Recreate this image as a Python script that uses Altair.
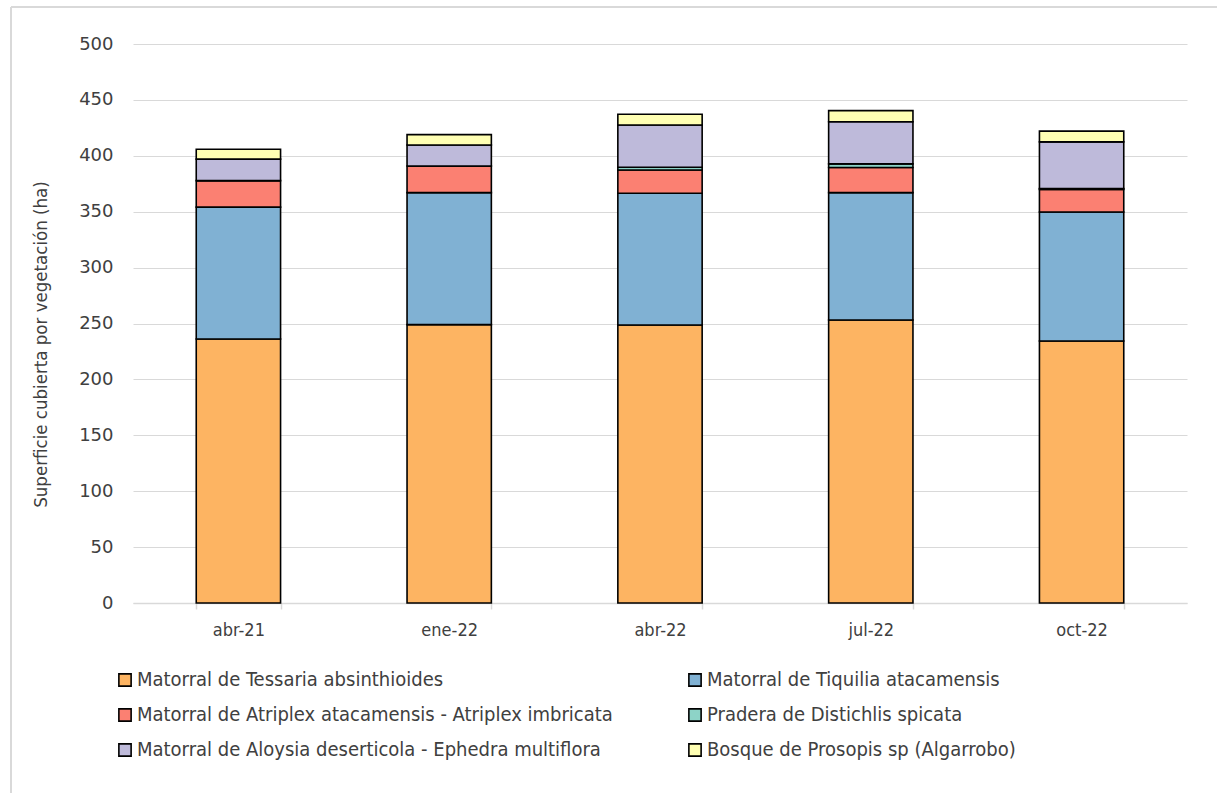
import altair as alt
import pandas as pd

fechas = ["abr-21", "ene-22", "abr-22", "jul-22", "oct-22"]
tipos = [
    "Matorral de Tessaria absinthioides",
    "Matorral de Tiquilia atacamensis",
    "Matorral de Atriplex atacamensis - Atriplex imbricata",
    "Pradera de Distichlis spicata",
    "Matorral de Aloysia deserticola - Ephedra multiflora",
    "Bosque de Prosopis sp (Algarrobo)",
]
colores = ["#FDB462", "#80B1D3", "#FB8072", "#8DD3C7", "#BEBADA", "#FFFFB3"]

# superficie (ha) por tipo de vegetación, una lista por fecha
tessaria = [236.1, 249.0, 248.7, 253.1, 234.3]
tiquilia = [118.0, 118.1, 117.8, 114.0, 115.4]
atriplex = [23.7, 23.8, 20.8, 22.4, 20.3]
distichlis = [0.0, 0.0, 2.4, 3.3, 0.8]
aloysia = [19.2, 18.8, 37.8, 37.7, 41.7]
prosopis = [8.9, 9.2, 9.6, 9.9, 9.6]
series = [tessaria, tiquilia, atriplex, distichlis, aloysia, prosopis]

rows = []
for i, tipo in enumerate(tipos):
    for fecha, val in zip(fechas, series[i]):
        rows.append({"fecha": fecha, "tipo": tipo, "ha": val, "orden": i})
df = pd.DataFrame(rows)

narrow = "DejaVu Sans Condensed, Liberation Sans Narrow, sans-serif"

bars = alt.Chart(df).mark_bar(stroke="black", strokeWidth=1.6).encode(
    x=alt.X(
        "fecha:N",
        sort=fechas,
        title=None,
        scale=alt.Scale(paddingInner=0.6, paddingOuter=0.3),
        axis=alt.Axis(
            labelAngle=0,
            labelFont=narrow,
            labelFontSize=18,
            labelColor="#404040",
            labelPadding=12,
            domainColor="#d9d9d9",
            domainWidth=1.5,
            tickColor="#d9d9d9",
            tickWidth=1.5,
            tickSize=6,
            tickBand="extent",
            grid=False,
        ),
    ),
    y=alt.Y(
        "ha:Q",
        stack="zero",
        title="Superficie  cubierta por vegetación (ha)",
        scale=alt.Scale(domain=[0, 500], nice=False),
        axis=alt.Axis(
            values=list(range(0, 501, 50)),
            labelFont="DejaVu Sans",
            labelFontSize=18,
            labelColor="#404040",
            labelPadding=20,
            domain=False,
            ticks=False,
            gridColor="#d9d9d9",
            gridWidth=1.2,
            titleFont=narrow,
            titleFontSize=18.5,
            titleFontWeight="normal",
            titleColor="#404040",
            titleX=-93,
            titleY=300,
            titleAngle=-90,
            titleAlign="center",
            titleBaseline="middle",
        ),
    ),
    color=alt.Color(
        "tipo:N",
        sort=tipos,
        scale=alt.Scale(domain=tipos, range=colores),
        legend=alt.Legend(
            title=None,
            orient="none",
            legendX=-18,
            legendY=626,
            columns=2,
            direction="horizontal",
            symbolType="square",
            symbolSize=150,
            symbolStrokeColor="black",
            symbolStrokeWidth=1.6,
            labelFont=narrow,
            labelFontSize=20,
            labelColor="#404040",
            labelLimit=600,
            labelOffset=2,
            rowPadding=15,
            columnPadding=72,
        ),
    ),
    order=alt.Order("orden:Q", sort="ascending"),
)

# marco del gráfico: borde superior e izquierdo
frame_top = alt.Chart(df).mark_rule(color="#d9d9d9", strokeWidth=1.5).encode(
    x=alt.value(-122), x2=alt.value(1084), y=alt.value(-37)
)
frame_left = alt.Chart(df).mark_rule(color="#d9d9d9", strokeWidth=1.5).encode(
    x=alt.value(-122), y=alt.value(-37), y2=alt.value(749)
)

chart = (
    alt.layer(bars, frame_top, frame_left)
    .properties(
        width=1054,
        height=559,
        autosize=alt.AutoSizeParams(type="none"),
        padding={"left": 133, "top": 44, "right": 30, "bottom": 190},
        background="white",
    )
    .configure_view(stroke=None)
)

chart.save("out.html", embed_options={"renderer": "svg", "actions": False})
